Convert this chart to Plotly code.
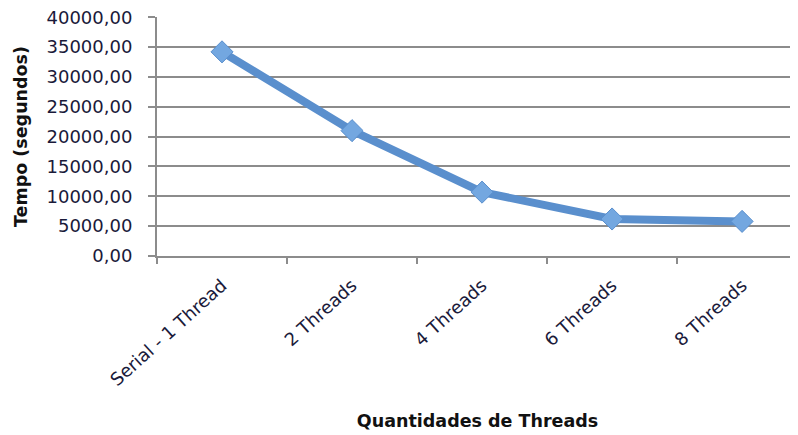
import plotly.graph_objects as go

categories = ["Serial - 1 Thread", "2 Threads", "4 Threads", "6 Threads", "8 Threads"]
tempo = [34200, 21000, 10700, 6200, 5800]
y_ticks = [0, 5000, 10000, 15000, 20000, 25000, 30000, 35000, 40000]

x_title = "Quantidades de Threads"
y_title = "Tempo (segundos)"

FONT = "DejaVu Sans"

fig = go.Figure()
fig.add_trace(go.Scatter(
    x=categories, y=tempo, mode="lines+markers",
    line=dict(color="#5a8fcd", width=8),
    marker=dict(symbol="diamond", size=17, color="#73a7e0",
                line=dict(color="#5a8fcd", width=1)),
    showlegend=False, cliponaxis=False,
))

fig.update_layout(
    width=790, height=427,
    margin=dict(l=149, r=0, t=9, b=179),
    paper_bgcolor="white", plot_bgcolor="white",
    separators=",.",
    font=dict(family=FONT, size=16, color="#1a1a2a"),
)
fig.update_xaxes(
    type="category", range=[-0.5, 4.43], automargin=False,
    showgrid=False, showline=True, linecolor="#8c8c8c", linewidth=2,
    ticks="outside", tickson="boundaries", ticklen=6, tickcolor="#8c8c8c", tickwidth=2,
    tickangle=-42, ticklabelstandoff=10,
    tickfont=dict(family=FONT, size=18, color="#1a1a3a"),
    title=dict(text=x_title, font=dict(family=FONT, size=17.5, color="#111111", weight="bold"),
               standoff=26),
)
fig.update_yaxes(
    range=[0, 40040], tickvals=y_ticks, tickformat=".2f", automargin=False,
    ticklabeloverflow="allow",
    showgrid=True, gridcolor="#8c8c8c", gridwidth=1.5,
    showline=True, linecolor="#8c8c8c", linewidth=2,
    ticks="outside", ticklen=7, tickcolor="#8c8c8c", tickwidth=2,
    zeroline=False, ticklabelstandoff=12,
    tickfont=dict(family=FONT, size=18, color="#1a1a3a"),
    title=dict(text=y_title, font=dict(family=FONT, size=17.5, color="#111111", weight="bold"),
               standoff=14),
)

fig.write_html("out.html")
